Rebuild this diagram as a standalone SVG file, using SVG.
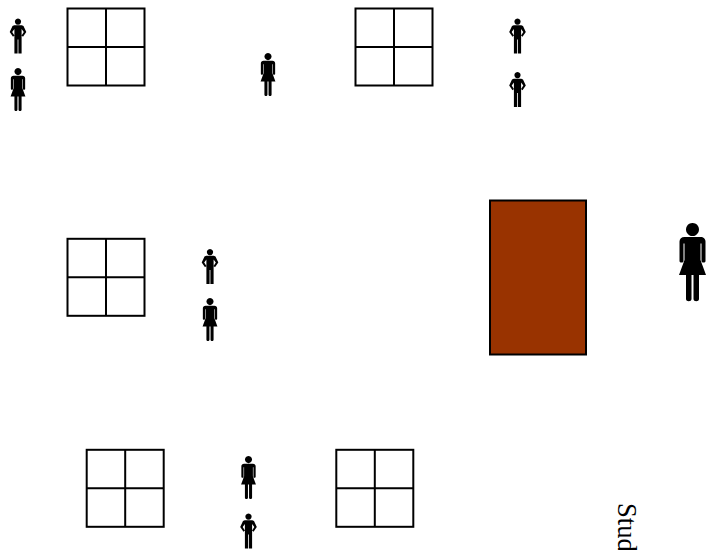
<svg xmlns="http://www.w3.org/2000/svg" width="715" height="550" viewBox="0 0 715 550">
<style>
.g{fill:#fff;stroke:#000;stroke-width:2}
.l{fill:none;stroke:#000;stroke-width:2}
.t{font-family:"Liberation Serif","Times New Roman",serif;font-size:26.670px;fill:#000}
</style>
<defs>
<g id="grid"><rect class="g" x="0" y="0" width="77" height="77"/><path class="l" d="M38.500 0V77M0 38.500H77"/></g>
<path id="man" d="M0 0a3.100 3.100 0 1 1-.01 0ZM-3.800 6.800H3.800L5.500 7.500 8.300 13.500 5 18.200 3.600 17 5.800 13.500 3.600 10.500V35H.4V21H-.4V35H-3.600V10.500L-5.800 13.500-3.600 17-5 18.200-8.300 13.500-5.500 7.500Z"/>
<path id="woman" d="M0 0a6.500 6.500 0 1 1-.01 0ZM-8 14H8C11 14 13 16 13 18.500V38C13 40 9 40 9 38V20.500H8V37L13.500 52H6.500V76C6.500 79 1 79 1 76V52H-1V76C-1 79-6.500 79-6.500 76V52H-13.500L-8 37V20.500H-9V38C-9 40-13 40-13 38V18.500C-13 16-11 14-8 14Z"/>
</defs>
<g id="table1"><use href="#grid" x="67.500" y="8.500"/></g>
<g id="table2"><use href="#grid" x="355.500" y="8.500"/></g>
<g id="table3"><use href="#grid" x="67.500" y="238.800"/></g>
<g id="table4"><use href="#grid" x="86.700" y="449.800"/></g>
<g id="table5"><use href="#grid" x="336.300" y="449.800"/></g>
<g id="desk"><rect x="490" y="200.500" width="96" height="154" fill="#993300" stroke="#000" stroke-width="2"/></g>
<g id="teacher"><use href="#woman" transform="translate(692.500 223)"/></g>
<g id="p1"><use href="#man" x="18" y="18.500"/></g>
<g id="p2"><use href="#woman" transform="translate(18 68) scale(.55)"/></g>
<g id="p3"><use href="#woman" transform="translate(268 53) scale(.55)"/></g>
<g id="p4"><use href="#man" x="517.500" y="18.500"/></g>
<g id="p5"><use href="#man" x="517.500" y="72"/></g>
<g id="p6"><use href="#man" x="210" y="249"/></g>
<g id="p7"><use href="#woman" transform="translate(210 298) scale(.55)"/></g>
<g id="p8"><use href="#woman" transform="translate(248.500 456) scale(.55)"/></g>
<g id="p9"><use href="#man" x="248.500" y="513.500"/></g>
<g id="label"><text class="t" transform="translate(617.500 503) rotate(90)">Stud</text></g>
<g id="connectors"></g>
</svg>
